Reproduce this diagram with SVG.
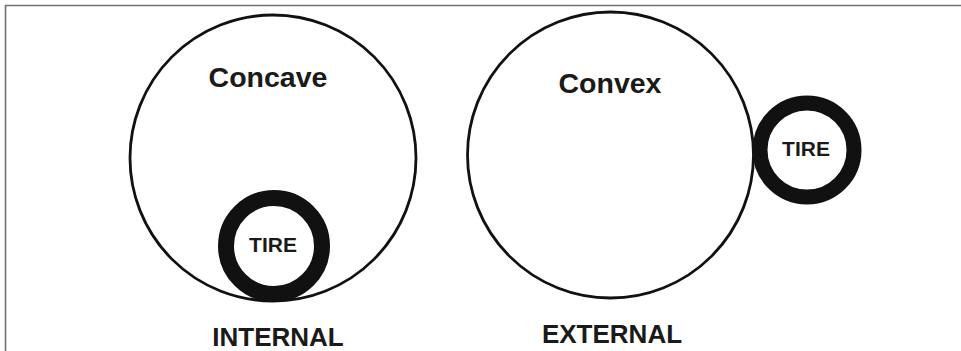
<svg xmlns="http://www.w3.org/2000/svg" width="961" height="351" viewBox="0 0 961 351">
<style>
.big{fill:none;stroke:#111;stroke-width:2.8}
.tire{fill:#fff;stroke:#111}
.t{font-family:"Liberation Sans",Arial,sans-serif;font-weight:bold;fill:#1a1a1a;text-anchor:middle}
</style>
<rect width="961" height="351" fill="#fff"/>
<path d="M5.5 351 V5.5 H961" fill="none" stroke="#707070" stroke-width="1.6"/>
<g id="concave">
<circle class="big" cx="273" cy="158" r="143"/>
<text class="t" x="268" y="87" font-size="28.5">Concave</text>
</g>
<g id="tire-internal">
<circle class="tire" cx="274" cy="246" r="48" stroke-width="16"/>
<text class="t" x="273" y="252" font-size="21">TIRE</text>
</g>
<g id="convex">
<circle class="big" cx="610.5" cy="155" r="143"/>
<text class="t" x="610" y="93" font-size="28.5">Convex</text>
</g>
<g id="tire-external">
<circle class="tire" cx="807" cy="150" r="47" stroke-width="15"/>
<text class="t" x="806" y="156" font-size="21">TIRE</text>
</g>
<g id="labels">
<text class="t" x="278" y="346" font-size="26">INTERNAL</text>
<text class="t" x="612" y="343" font-size="26">EXTERNAL</text>
</g>
<g id="connectors"/>
</svg>
